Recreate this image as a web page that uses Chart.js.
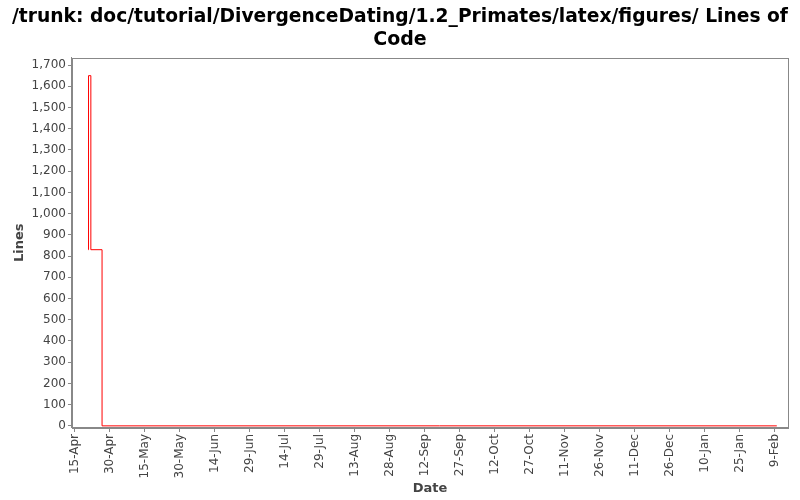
<!DOCTYPE html>
<html>
<head>
<meta charset="utf-8">
<script src="https://cdn.jsdelivr.net/npm/chart.js@4/dist/chart.umd.min.js"></script>
<style>
  html, body { margin: 0; padding: 0; background: #fff; }
  #wrap { width: 800px; height: 500px; }
</style>
</head>
<body>
<div id="wrap"><canvas id="myChart"></canvas></div>
<script>
// days counted from 15-Apr
var pointDays = [5.6, 5.8, 6.8, 11.6, 300.8];
var lineCounts = [830, 1650, 830, 0, 0];

var tickDays = [0, 15, 30, 45, 60, 75, 90, 105, 120, 135, 150, 165, 180, 195, 210, 225, 240, 255, 270, 285, 300];
var tickLabels = ["15-Apr", "30-Apr", "15-May", "30-May", "14-Jun", "29-Jun", "14-Jul", "29-Jul", "13-Aug", "28-Aug",
  "12-Sep", "27-Sep", "12-Oct", "27-Oct", "11-Nov", "26-Nov", "11-Dec", "26-Dec", "10-Jan", "25-Jan", "9-Feb"];
var yTicks = [0, 100, 200, 300, 400, 500, 600, 700, 800, 900, 1000, 1100, 1200, 1300, 1400, 1500, 1600, 1700];

var points = pointDays.map(function (d, i) {
  return { x: d, y: lineCounts[i] };
});

// plot frame
var frame = {
  id: "frame",
  afterDraw: function (chart) {
    var a = chart.chartArea;
    var c = chart.ctx;
    c.save();
    c.strokeStyle = "#888888";
    c.lineWidth = 1;
    c.strokeRect(Math.round(a.left) + 0.5, Math.round(a.top) + 0.5, Math.round(a.right - a.left), Math.round(a.bottom - a.top));
    c.restore();
  },
};

var ctx = document.getElementById("myChart").getContext("2d");
var myChart = new Chart(ctx, {
  type: "line",
  data: {
    datasets: [
      {
        data: points,
        borderColor: "#ff0000",
        borderWidth: 1,
        pointRadius: 0,
        stepped: true,
        fill: false,
      },
    ],
  },
  options: {
    responsive: true,
    maintainAspectRatio: false,
    animation: false,
    layout: {
      padding: { left: 12, right: 12, top: 2, bottom: 4 },
    },
    plugins: {
      legend: { display: false },
      tooltip: { enabled: false },
      title: {
        display: true,
        text: ["/trunk: doc/tutorial/DivergenceDating/1.2_Primates/latex/figures/ Lines of", "Code"],
        font: { family: "DejaVu Sans", size: 19, weight: "bold" },
        color: "#000000",
        padding: { top: 4, bottom: 6 },
        lineHeight: 1.15,
      },
    },
    scales: {
      x: {
        type: "linear",
        min: -1.3,
        max: 305.6,
        afterBuildTicks: function (axis) {
          axis.ticks = tickDays.map(function (v) { return { value: v }; });
        },
        ticks: {
          autoSkip: false,
          maxRotation: 90,
          minRotation: 90,
          color: "#444444",
          font: { family: "DejaVu Sans", size: 12 },
          padding: 2,
          callback: function (value) {
            var i = tickDays.indexOf(value);
            return i >= 0 ? tickLabels[i] : "";
          },
        },
        grid: {
          display: true,
          drawOnChartArea: false,
          drawTicks: true,
          tickLength: 4,
          color: "#888888",
        },
        border: { display: true, color: "#888888" },
        title: {
          display: true,
          text: "Date",
          color: "#444444",
          font: { family: "DejaVu Sans", size: 13, weight: "bold" },
          padding: { top: 0, bottom: 0 },
        },
      },
      y: {
        min: -10,
        max: 1735,
        afterBuildTicks: function (axis) {
          axis.ticks = yTicks.map(function (v) { return { value: v }; });
        },
        ticks: {
          color: "#444444",
          font: { family: "DejaVu Sans", size: 12 },
          padding: 2,
          callback: function (value) {
            return value.toLocaleString("en-US");
          },
        },
        grid: {
          display: true,
          drawOnChartArea: false,
          drawTicks: true,
          tickLength: 4,
          color: "#888888",
        },
        border: { display: true, color: "#888888" },
        title: {
          display: true,
          text: "Lines",
          color: "#444444",
          font: { family: "DejaVu Sans", size: 13, weight: "bold" },
          padding: { top: 0, bottom: 2 },
        },
      },
    },
  },
  plugins: [frame],
});
</script>
</body>
</html>
